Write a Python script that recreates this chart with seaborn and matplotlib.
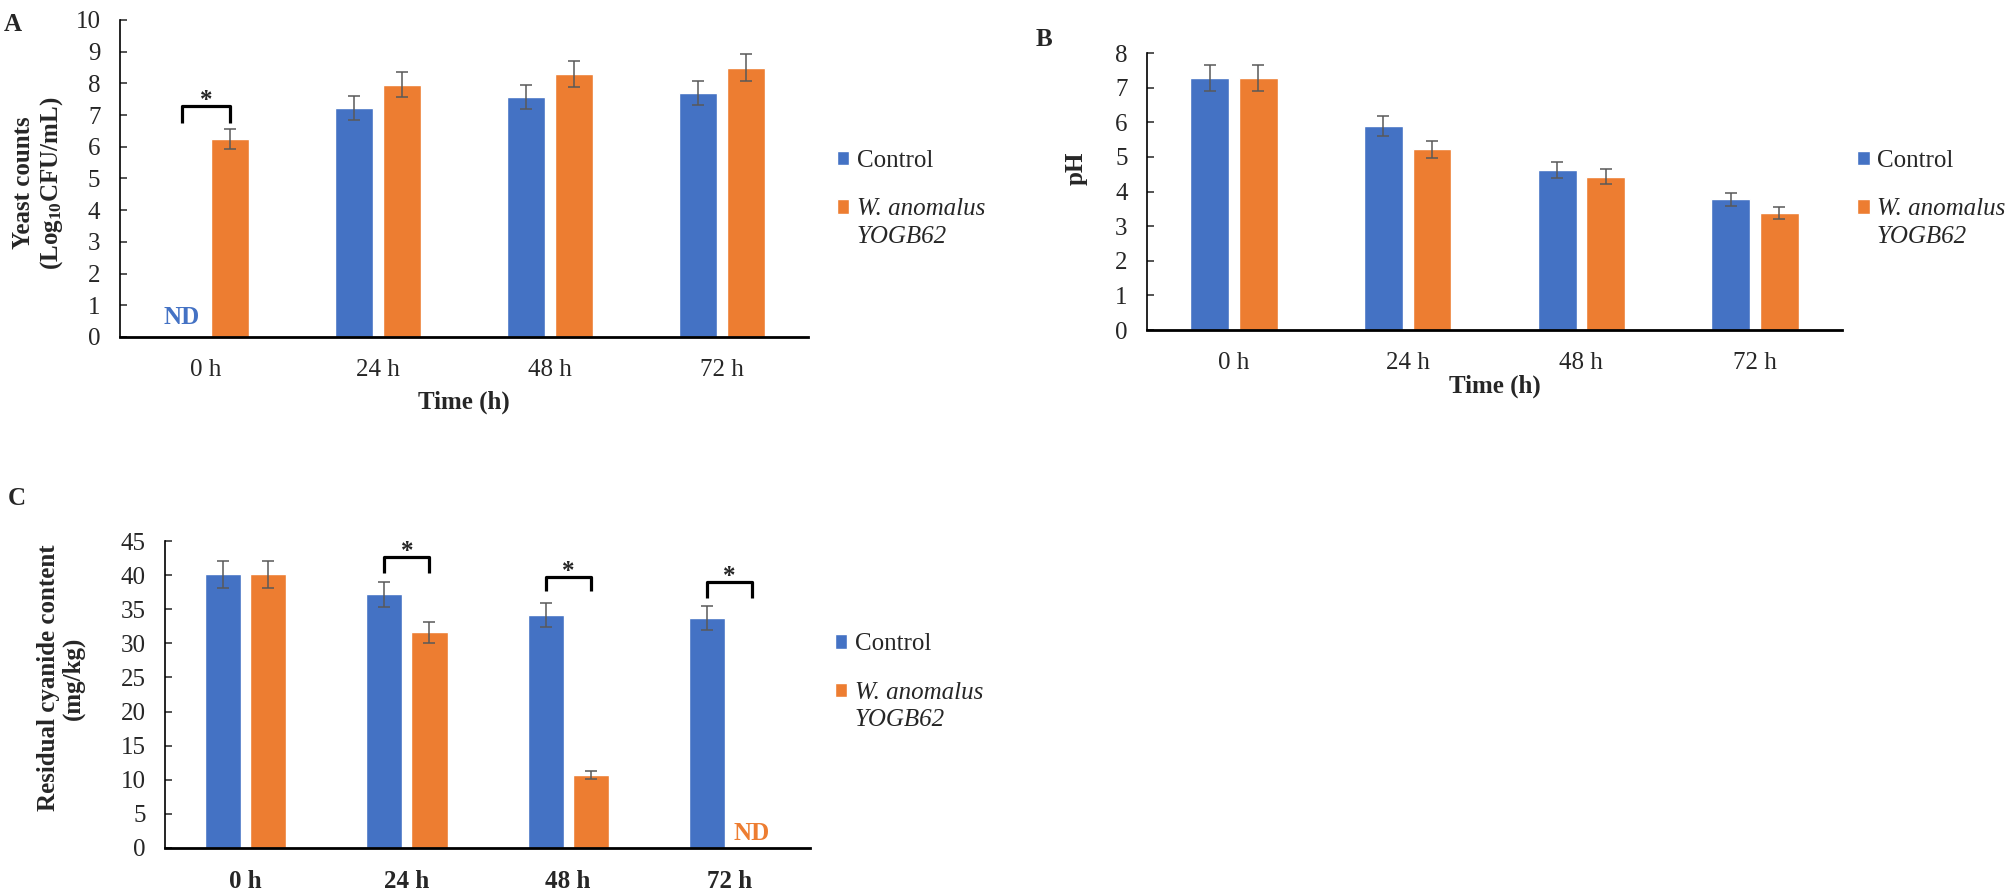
import matplotlib
matplotlib.use("Agg")
import matplotlib.pyplot as plt
import numpy as np
import pandas as pd
import seaborn as sns

# data
times = ["0 h", "24 h", "48 h", "72 h"]
groups = ["Control", "W. anomalus YOGB62"]
legend_lines = ["Control", "W. anomalus", "YOGB62"]

yeast_control = [0.0, 7.22, 7.57, 7.70]
yeast_control_sd = [0.0, 0.37, 0.38, 0.38]
yeast_wa = [6.25, 7.96, 8.30, 8.50]
yeast_wa_sd = [0.31, 0.40, 0.42, 0.42]

ph_control = [7.28, 5.90, 4.62, 3.78]
ph_control_sd = [0.37, 0.29, 0.22, 0.19]
ph_wa = [7.28, 5.22, 4.43, 3.38]
ph_wa_sd = [0.37, 0.25, 0.22, 0.18]

cn_control = [40.1, 37.2, 34.2, 33.7]
cn_control_sd = [2.0, 1.85, 1.75, 1.7]
cn_wa = [40.1, 31.6, 10.7, 0.0]
cn_wa_sd = [2.0, 1.6, 0.55, 0.0]

# significance brackets: (time index, top, leg bottom)
yeast_sig = [(0, 7.29, 6.75)]
cn_sig = [(1, 42.7, 40.3), (2, 39.7, 37.6), (3, 39.0, 36.6)]

# "ND" labels: (time index, group index, y)
yeast_nd = [(0, 0, 0.6)]
cn_nd = [(3, 1, 2.05)]

colors = {groups[0]: "#4472C4", groups[1]: "#ED7D31"}

sns.set_style("white")
plt.rcParams["font.family"] = ["Liberation Serif", "DejaVu Serif"]
plt.rcParams["mathtext.fontset"] = "custom"
plt.rcParams["mathtext.rm"] = "Liberation Serif"
plt.rcParams["mathtext.bf"] = "Liberation Serif:bold"
plt.rcParams["mathtext.it"] = "Liberation Serif:italic"


def long_df(c, w, c_sd, w_sd):
    return pd.DataFrame({
        "time": times * 2,
        "group": [groups[0]] * 4 + [groups[1]] * 4,
        "value": c + w,
        "sd": c_sd + w_sd,
    })


def panel(ax, df, ymax, step, bold_ticks=False):
    sns.barplot(data=df, x="time", y="value", hue="group", order=times,
                hue_order=groups, palette=colors, width=0.56, gap=0.2,
                errorbar=None, legend=False, ax=ax, saturation=1)
    for cont, g in zip(ax.containers, groups):
        sub = df[df["group"] == g]
        for bar, v, e in zip(cont, sub["value"], sub["sd"]):
            if e > 0:
                ax.errorbar(bar.get_x() + bar.get_width() / 2, v, yerr=e,
                            fmt="none", ecolor="#595959", elinewidth=1.1,
                            capsize=4, capthick=1.1)
    ax.set_ylim(0, ymax)
    ax.set_yticks(np.arange(0, ymax + step / 2, step))
    ax.set_xlim(-0.5, 3.5)
    sns.despine(ax=ax)
    ax.spines["left"].set_linewidth(1.2)
    ax.spines["bottom"].set_linewidth(2.0)
    ax.spines["left"].set_color("black")
    ax.spines["bottom"].set_color("black")
    ax.tick_params(axis="y", direction="in", length=5, width=1.1,
                   labelsize=18, pad=14, left=True)
    ax.tick_params(axis="x", length=0, labelsize=18, pad=16)
    if bold_ticks:
        for t in ax.get_xticklabels():
            t.set_fontweight("bold")
    ax.set_xlabel("")


def centers(ax, i):
    return [b.get_x() + b.get_width() / 2 for b in ax.containers[i]]


def brackets(ax, sig):
    c0, c1 = centers(ax, 0), centers(ax, 1)
    for k, top, low in sig:
        ax.plot([c0[k], c0[k], c1[k], c1[k]], [low, top, top, low],
                color="black", lw=2.3, solid_joinstyle="round",
                solid_capstyle="butt")
        ax.annotate("*", ((c0[k] + c1[k]) / 2, top), xytext=(0, 4),
                    textcoords="offset points", ha="center", va="center",
                    fontsize=18, fontweight="bold")


def nd_labels(ax, nds):
    for k, g, y in nds:
        x = centers(ax, g)[k]
        ax.text(x, y, "ND", ha="center", va="center", fontsize=18,
                fontweight="bold", color=colors[groups[g]])


def legend(fig, ax, x, y):
    leg = ax.legend(handles=list(ax.containers), labels=legend_lines[:2],
                    loc="center left", bbox_to_anchor=(x, y),
                    bbox_transform=fig.transFigure, frameon=False,
                    fontsize=18, handlelength=0.5, handleheight=0.5,
                    handletextpad=0.3, labelspacing=1.05, borderpad=0,
                    borderaxespad=0)
    wa = leg.get_texts()[1]
    wa.set_fontstyle("italic")
    # second line of the strain name, right under "W. anomalus"
    # (drawn after the legend so the text position is known)
    ax.annotate(legend_lines[2], xy=(0, 0), xycoords=wa, xytext=(0, -4),
                textcoords="offset points", ha="left", va="top",
                fontsize=18, fontstyle="italic", annotation_clip=False,
                zorder=10)


fig = plt.figure(figsize=(20.12, 8.91), dpi=100)

# A
axA = fig.add_axes([0.0596, 0.6218, 0.3420, 0.3558])
panel(axA, long_df(yeast_control, yeast_wa, yeast_control_sd, yeast_wa_sd), 10, 1)
brackets(axA, yeast_sig)
nd_labels(axA, yeast_nd)
axA.set_xlabel("Time (h)", fontsize=18, fontweight="bold", labelpad=7)
axA.set_ylabel("Yeast counts\n(Log$_{\\mathbf{10}}$CFU/mL)", fontsize=18,
               fontweight="bold", linespacing=1.15)
axA.yaxis.set_label_coords(-0.080, 0.486)
legend(fig, axA, 0.416, 0.792)
fig.text(0.002, 0.985, "A", fontsize=18, fontweight="bold", va="top")

# B
axB = fig.add_axes([0.5701, 0.6296, 0.3454, 0.3109])
panel(axB, long_df(ph_control, ph_wa, ph_control_sd, ph_wa_sd), 8, 1)
axB.set_xlabel("Time (h)", fontsize=18, fontweight="bold", labelpad=0)
axB.set_ylabel("pH", fontsize=18, fontweight="bold")
axB.yaxis.set_label_coords(-0.085, 0.585)
legend(fig, axB, 0.923, 0.792)
fig.text(0.5145, 0.956, "B", fontsize=18, fontweight="bold", va="center")

# C
axC = fig.add_axes([0.0820, 0.0483, 0.3206, 0.3445])
panel(axC, long_df(cn_control, cn_wa, cn_control_sd, cn_wa_sd), 45, 5, bold_ticks=True)
brackets(axC, cn_sig)
nd_labels(axC, cn_nd)
axC.set_ylabel("Residual cyanide content\n(mg/kg)", fontsize=18,
               fontweight="bold", linespacing=1.1)
axC.yaxis.set_label_coords(-0.124, 0.554)
legend(fig, axC, 0.415, 0.2497)
fig.text(0.004, 0.441, "C", fontsize=18, fontweight="bold", va="center")

fig.savefig("out.png", dpi=100)
